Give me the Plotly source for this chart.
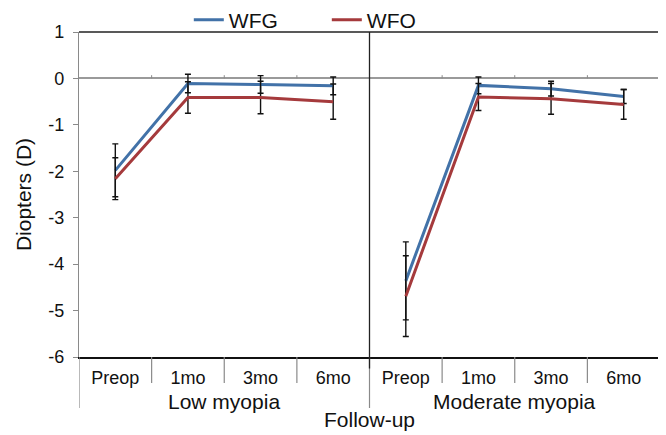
import plotly.graph_objects as go

categories = ["Preop", "1mo", "3mo", "6mo"]
groups = ["Low myopia", "Moderate myopia"]

wfg_low = [-1.98, -0.11, -0.13, -0.16]
wfg_low_sd = [0.57, 0.20, 0.19, 0.19]
wfo_low = [-2.16, -0.41, -0.41, -0.50]
wfo_low_sd = [0.45, 0.34, 0.35, 0.38]

wfg_mod = [-4.36, -0.15, -0.22, -0.39]
wfg_mod_sd = [0.84, 0.18, 0.16, 0.15]
wfo_mod = [-4.69, -0.40, -0.44, -0.56]
wfo_mod_sd = [0.87, 0.29, 0.33, 0.32]

y_ticks = [1, 0, -1, -2, -3, -4, -5, -6]
y_tick_labels = ["1", "0", "-1", "-2", "-3", "-4", "-5", "-6"]

BLUE = "#4272a8"
RED = "#a53a3c"
FONT = "Liberation Sans, Arial, sans-serif"
TXT = "#111111"

ids = {g: [f"{g}|{c}" for c in categories] for g in groups}
all_ids = ids[groups[0]] + ids[groups[1]]

fig = go.Figure()

series = [
    ("WFG", BLUE, [(groups[0], wfg_low, wfg_low_sd), (groups[1], wfg_mod, wfg_mod_sd)]),
    ("WFO", RED, [(groups[0], wfo_low, wfo_low_sd), (groups[1], wfo_mod, wfo_mod_sd)]),
]
for name, color, parts in series:
    for k, (g, vals, sd) in enumerate(parts):
        fig.add_trace(go.Scatter(
            x=ids[g], y=vals, mode="lines", name=name,
            legendgroup=name, showlegend=(k == 0),
            line=dict(color=color, width=3),
            error_y=dict(type="data", array=sd, visible=True,
                         color="#111111", thickness=1.4, width=3),
        ))

n = len(all_ids)
shapes = []
gray = "#8a8a8a"
for i in range(n + 1):
    xb = i - 0.5
    outer = (i % len(categories) == 0)
    shapes.append(dict(type="line", xref="x", yref="paper", x0=xb, x1=xb,
                       y0=0, y1=(-0.157 if outer else -0.08),
                       line=dict(color=gray, width=1.2)))
    if not outer:
        shapes.append(dict(type="line", xref="x", yref="y", x0=xb, x1=xb,
                           y0=0, y1=0.07, line=dict(color=gray, width=1)))
# plot border top / right and group separator
shapes.append(dict(type="line", xref="x", yref="paper", x0=-0.5, x1=n - 0.5,
                   y0=1, y1=1, line=dict(color="#222222", width=1.3)))
shapes.append(dict(type="line", xref="x", yref="paper", x0=n - 0.5, x1=n - 0.5,
                   y0=0, y1=1, line=dict(color="#222222", width=1.3)))
shapes.append(dict(type="line", xref="x", yref="paper", x0=len(categories) - 0.5,
                   x1=len(categories) - 0.5, y0=-0.035, y1=1,
                   line=dict(color="#222222", width=1.3)))

annotations = []
for gi, g in enumerate(groups):
    annotations.append(dict(text=g, xref="x", yref="paper",
                            x=gi * len(categories) + (len(categories) - 1) / 2,
                            y=-0.137, showarrow=False, yanchor="middle",
                            font=dict(family=FONT, size=21, color=TXT)))

# The page body adds an 8px offset; the figure is sized to fill the rest of the window.
fig.update_layout(
    width=658, height=427,
    margin=dict(l=71, r=6, t=24, b=78, autoexpand=False),
    paper_bgcolor="white", plot_bgcolor="white",
    font=dict(family=FONT, color=TXT),
    shapes=shapes, annotations=annotations,
    legend=dict(orientation="h", x=0.189, y=1.037, xanchor="left", yanchor="middle",
                font=dict(family=FONT, size=21, color=TXT),
                entrywidth=93, entrywidthmode="pixels",
                bgcolor="rgba(0,0,0,0)", itemwidth=30),
    xaxis=dict(type="category", categoryorder="array", categoryarray=all_ids,
               tickvals=all_ids, ticktext=categories * len(groups),
               range=[-0.5, n - 0.5], ticks="", showgrid=False, automargin=False,
               showline=True, linecolor="#111111", linewidth=1.5,
               tickfont=dict(family=FONT, size=18, color=TXT),
               ticklabelstandoff=4,
               title=dict(text="Follow-up", font=dict(family=FONT, size=21, color=TXT),
                          standoff=25)),
    yaxis=dict(range=[-6, 1], tickvals=y_ticks, ticktext=y_tick_labels,
               showgrid=False, automargin=False,
               showline=True, linecolor=gray, linewidth=1.2,
               ticks="outside", ticklen=5, tickcolor=gray,
               zeroline=True, zerolinecolor="#9a9a9a", zerolinewidth=1.5,
               tickfont=dict(family=FONT, size=18, color=TXT),
               ticklabelstandoff=5,
               title=dict(text="Diopters (D)", font=dict(family=FONT, size=21, color=TXT),
                          standoff=10)),
)

fig.write_html("out.html")
